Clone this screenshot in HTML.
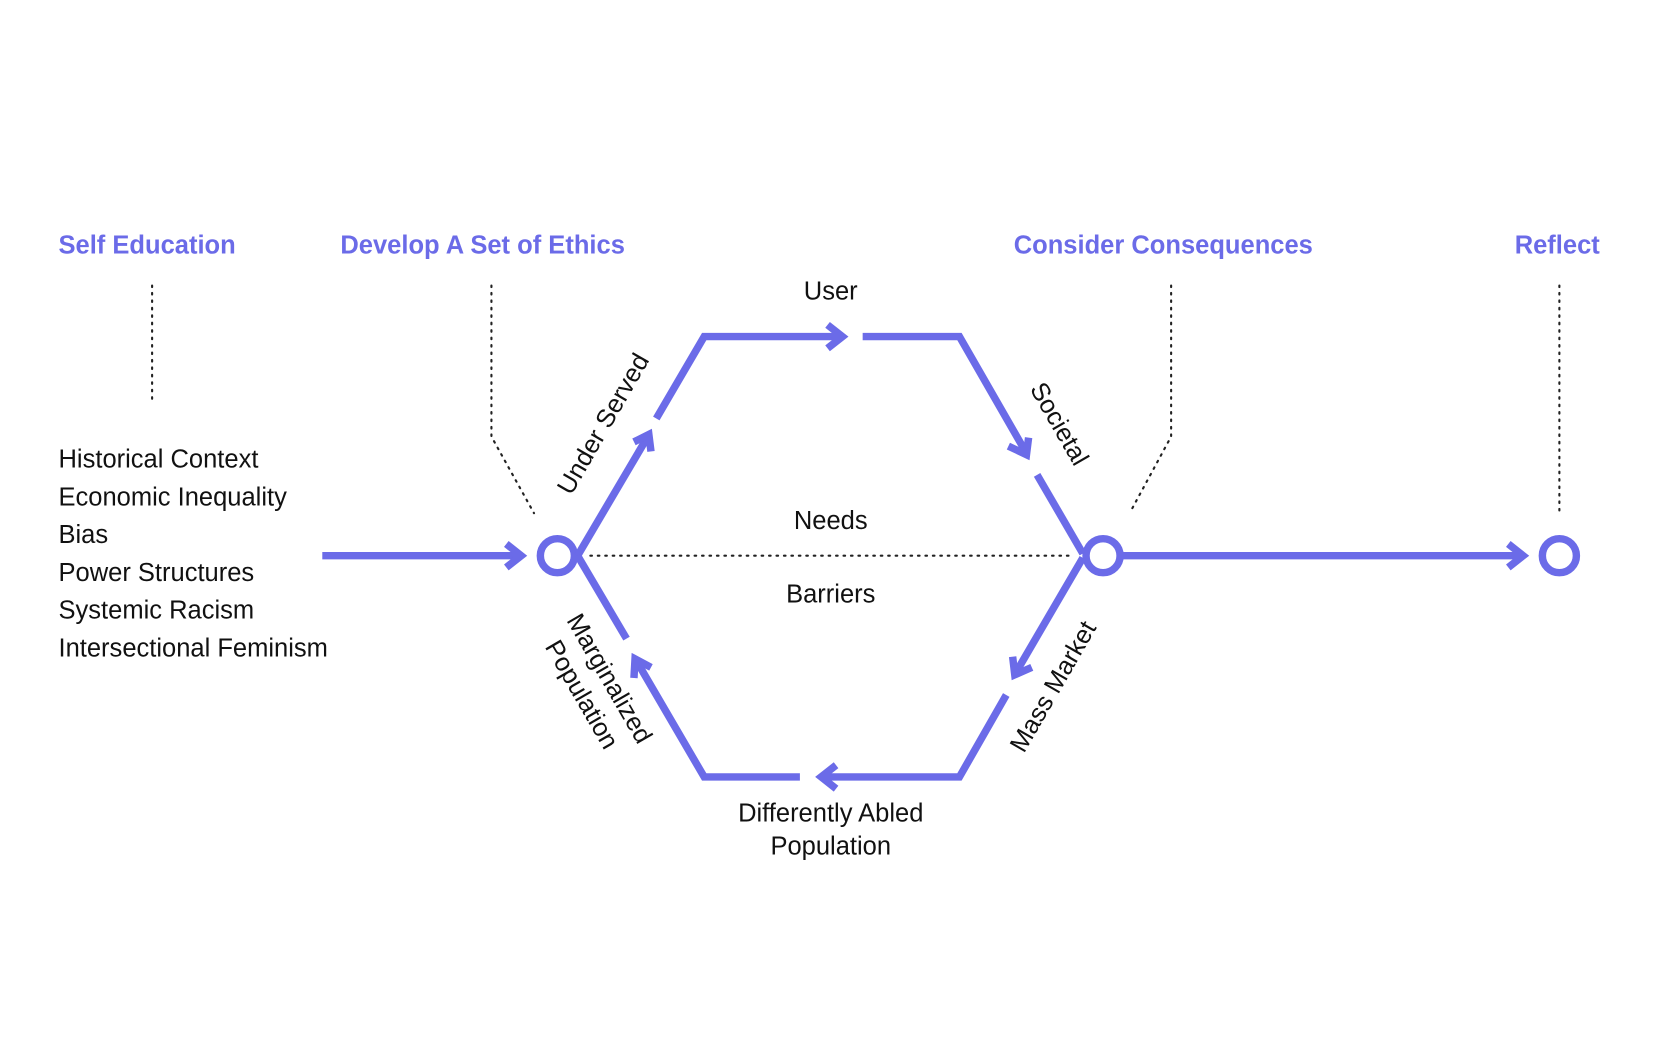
<!DOCTYPE html>
<html><head><meta charset="utf-8"><style>
html,body{margin:0;padding:0;background:#fff;}
svg{display:block;}
text{font-family:"Liberation Sans",Arial,sans-serif;}
.h{fill:#6b6be8;font-weight:bold;font-size:24px;}
.t{fill:#111;font-size:24px;}
</style></head><body>
<svg width="1670" height="1055" viewBox="0 0 1570 991" xmlns="http://www.w3.org/2000/svg">
<rect width="1570" height="991" fill="#fff"/>
<g fill="none" stroke="#6b6be8" stroke-width="7" stroke-linejoin="miter">
  <!-- input -->
  <line x1="303" y1="522" x2="489" y2="522"/>
  <polyline points="476,511 490,522 476,533"/>
  <!-- output -->
  <line x1="1055" y1="522" x2="1431" y2="522"/>
  <polyline points="1418,511 1432,522 1418,533"/>
  <!-- circles -->
  <circle cx="524" cy="522" r="16"/>
  <circle cx="1037" cy="522" r="16"/>
  <circle cx="1466" cy="522" r="16"/>
  <!-- top-left -->
  <line x1="543" y1="522" x2="609" y2="410"/>
  <polyline points="596,415 610,408 612,424"/>
  <polyline points="617,393 662,316 791,316"/>
  <polyline points="778,305 792,316 778,327"/>
  <polyline points="811,316 902,316 964,424"/>
  <polyline points="948,419 965,427 967,411"/>
  <line x1="975" y1="446" x2="1018" y2="520"/>
  <!-- bottom -->
  <line x1="1018" y1="524" x2="955" y2="632"/>
  <polyline points="952,617 954,634 970,627"/>
  <polyline points="946,653 902,730 774,730"/>
  <polyline points="786,719 772,730 786,741"/>
  <polyline points="752,730 662,730 599,622"/>
  <polyline points="596,637 597,619 612,627"/>
  <line x1="589" y1="600" x2="543" y2="522"/>
</g>
<g fill="none" stroke="#222" stroke-width="2" stroke-dasharray="1.5 5.5" stroke-linecap="round">
  <line x1="143" y1="268" x2="143" y2="376"/>
  <polyline points="462,268 462,410 502,482"/>
  <polyline points="1101,268 1101,410 1062,482"/>
  <line x1="1466" y1="268" x2="1466" y2="482"/>
  <line x1="555" y1="522" x2="1010" y2="522"/>
</g>
<text class="h" x="55" y="238">Self Education</text>
<text class="h" x="320" y="238">Develop A Set of Ethics</text>
<text class="h" x="953" y="238">Consider Consequences</text>
<text class="h" x="1424" y="238">Reflect</text>
<text class="t" x="781" y="281" text-anchor="middle">User</text>
<text class="t" x="781" y="497" text-anchor="middle">Needs</text>
<text class="t" x="781" y="566" text-anchor="middle">Barriers</text>
<text class="t" x="781" y="772" text-anchor="middle">Differently Abled</text>
<text class="t" x="781" y="803" text-anchor="middle">Population</text>
<g class="t">
<text class="t" x="55" y="439">Historical Context</text>
<text class="t" x="55" y="475">Economic Inequality</text>
<text class="t" x="55" y="510">Bias</text>
<text class="t" x="55" y="546">Power Structures</text>
<text class="t" x="55" y="581">Systemic Racism</text>
<text class="t" x="55" y="617">Intersectional Feminism</text>
</g>
<text class="t" text-anchor="middle" transform="translate(567,398) rotate(-60)" y="8">Under Served</text>
<text class="t" text-anchor="middle" transform="translate(996,398) rotate(60)" y="8">Societal</text>
<text class="t" text-anchor="middle" transform="translate(990,645) rotate(-60)" y="8">Mass Market</text>
<g transform="translate(560,645) rotate(60)">
<text class="t" text-anchor="middle" y="-7">Marginalized</text>
<text class="t" text-anchor="middle" y="23">Population</text>
</g>
</svg>
</body></html>
